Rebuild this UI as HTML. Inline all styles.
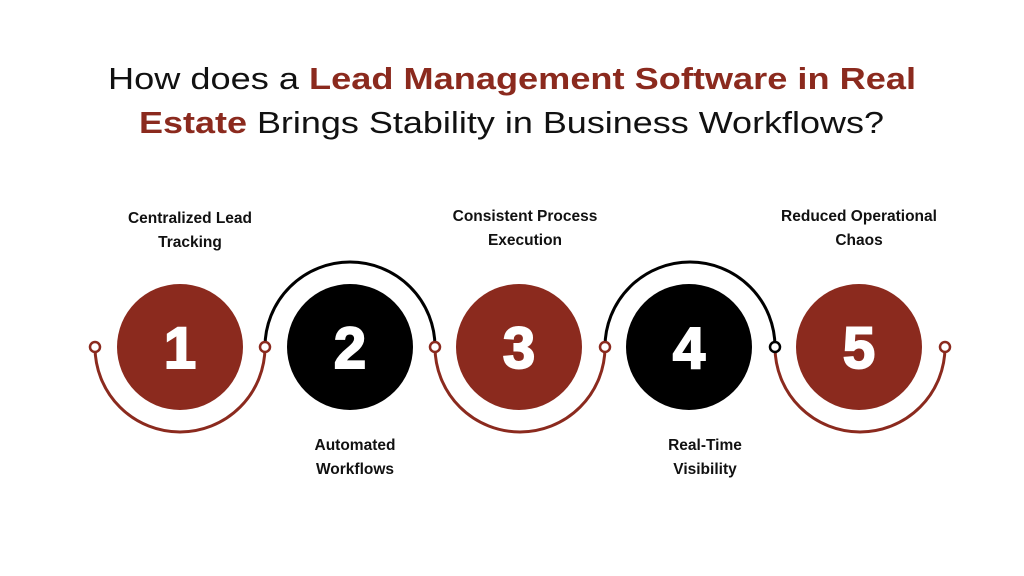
<!DOCTYPE html>
<html><head><meta charset="utf-8"><style>
html,body{margin:0;padding:0;background:#fff;}
svg{display:block}
</style></head><body>
<svg width="1024" height="576" viewBox="0 0 1024 576" xmlns="http://www.w3.org/2000/svg">
<rect width="1024" height="576" fill="#fff"/>
<g font-family="Liberation Sans, sans-serif" font-size="31">
<text x="108" y="89" textLength="808" lengthAdjust="spacingAndGlyphs" fill="#111">How does a <tspan font-weight="bold" fill="#8B2A1E">Lead Management Software in Real</tspan></text>
<text x="139" y="133" textLength="745" lengthAdjust="spacingAndGlyphs" fill="#111"><tspan font-weight="bold" fill="#8B2A1E">Estate</tspan> Brings Stability in Business Workflows?</text>
</g>
<g fill="none" stroke-width="3">
<path d="M95 347 A85 85 0 0 0 265 347" stroke="#8B2A1E"/>
<path d="M265 347 A85 85 0 0 1 435 347" stroke="#000"/>
<path d="M435 347 A85 85 0 0 0 605 347" stroke="#8B2A1E"/>
<path d="M605 347 A85 85 0 0 1 775 347" stroke="#000"/>
<path d="M775 347 A85 85 0 0 0 945 347" stroke="#8B2A1E"/>
</g>
<g fill="#fff" stroke-width="2.5">
<circle cx="95" cy="347" r="5" stroke="#8B2A1E"/>
<circle cx="265" cy="347" r="5" stroke="#8B2A1E"/>
<circle cx="435" cy="347" r="5" stroke="#8B2A1E"/>
<circle cx="605" cy="347" r="5" stroke="#8B2A1E"/>
<circle cx="775" cy="347" r="5" stroke="#000"/>
<circle cx="945" cy="347" r="5" stroke="#8B2A1E"/>
</g>
<circle cx="180" cy="347" r="63" fill="#8B2A1E"/>
<circle cx="350" cy="347" r="63" fill="#000"/>
<circle cx="519" cy="347" r="63" fill="#8B2A1E"/>
<circle cx="689" cy="347" r="63" fill="#000"/>
<circle cx="859" cy="347" r="63" fill="#8B2A1E"/>
<g font-family="Liberation Sans, sans-serif" font-weight="bold" font-size="58" fill="#fff" stroke="#fff" stroke-width="2" text-anchor="middle">
<text x="180" y="368">1</text>
<text x="350" y="368">2</text>
<text x="519" y="368">3</text>
<text x="689" y="368">4</text>
<text x="859" y="368">5</text>
</g>
<g font-family="Liberation Sans, sans-serif" font-weight="bold" font-size="15.5" fill="#111" text-anchor="middle">
<text x="190" y="223">Centralized Lead</text>
<text x="190" y="247">Tracking</text>
<text x="525" y="221">Consistent Process</text>
<text x="525" y="245">Execution</text>
<text x="859" y="221">Reduced Operational</text>
<text x="859" y="245">Chaos</text>
<text x="355" y="450">Automated</text>
<text x="355" y="474">Workflows</text>
<text x="705" y="450">Real-Time</text>
<text x="705" y="474">Visibility</text>
</g>
</svg>
</body></html>
